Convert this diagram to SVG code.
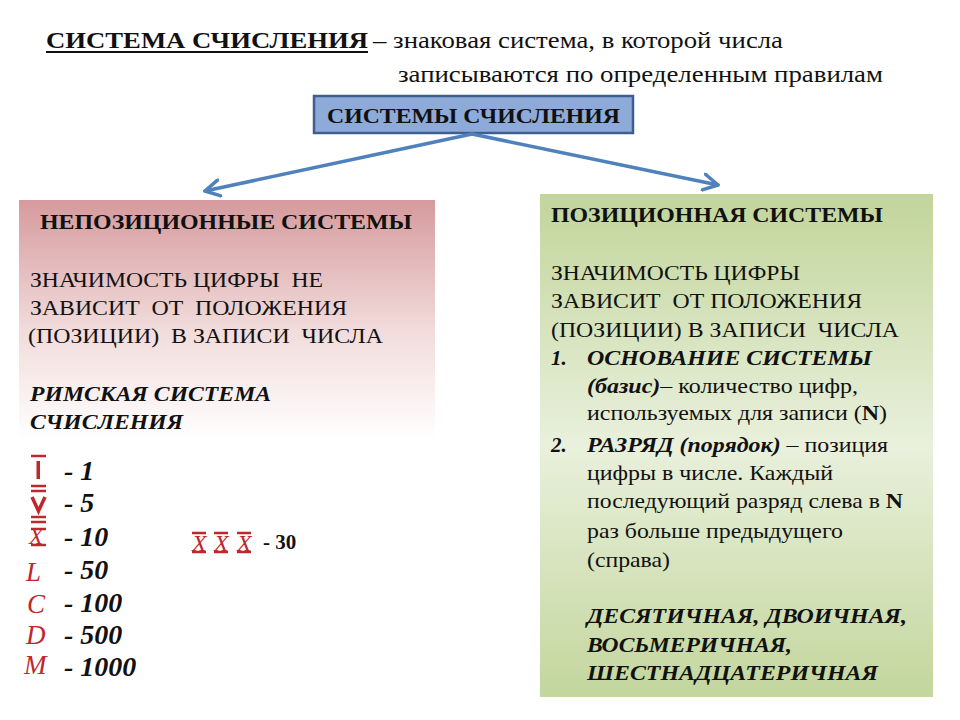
<svg xmlns="http://www.w3.org/2000/svg" width="960" height="720" viewBox="0 0 960 720">
<style>
text{fill:#111;white-space:pre}
.b{font-weight:bold}
.i{font-style:italic}
.t22{font-size:22px}
.t21{font-size:21px}
.red{fill:#c0272d}
.bar{stroke:#c0272d;stroke-width:2.5}
.dig{font-size:28px;font-weight:bold;font-style:italic}
.conn{stroke:#4f81bd;stroke-width:3.5;fill:none;stroke-linecap:round}
</style>
<defs>
<linearGradient id="gPink" x1="0" y1="0" x2="0" y2="1">
<stop offset="0" stop-color="#d69a9d"/>
<stop offset="0.55" stop-color="#f2dcdc"/>
<stop offset="1" stop-color="#ffffff"/>
</linearGradient>
<linearGradient id="gGreen" x1="0" y1="0" x2="0" y2="1">
<stop offset="0" stop-color="#c2d59b"/>
<stop offset="0.5" stop-color="#e9f0dc"/>
<stop offset="1" stop-color="#c3d69d"/>
</linearGradient>
<marker id="arr" viewBox="0 0 12 12" refX="10" refY="6" markerWidth="5.5" markerHeight="5.5" orient="auto" markerUnits="strokeWidth">
<path d="M1,1 L10,6 L1,11" fill="none" stroke="#4f81bd" stroke-width="2.2" stroke-linecap="round" stroke-linejoin="round"/>
</marker>
</defs>
<rect width="960" height="720" fill="#ffffff"/>
<g font-family="Liberation Serif, Times New Roman, serif">
<g id="title">
<text x="46" y="48" class="b" font-size="24" textLength="322" lengthAdjust="spacingAndGlyphs">СИСТЕМА СЧИСЛЕНИЯ</text>
<line x1="46" y1="52" x2="368" y2="52" stroke="#111" stroke-width="2.2"/>
<text x="373" y="48" font-size="23" textLength="410" lengthAdjust="spacingAndGlyphs">– знаковая система, в которой числа</text>
<text x="398" y="82" font-size="23" textLength="485" lengthAdjust="spacingAndGlyphs">записываются по определенным правилам</text>
</g>

<g id="root">
<rect x="314" y="96" width="319" height="37" fill="#8eaad8" stroke="#3d5f8f" stroke-width="2.5"/>
<text x="327" y="123" class="b t22" textLength="293" lengthAdjust="spacingAndGlyphs">СИСТЕМЫ СЧИСЛЕНИЯ</text>
</g>

<g id="connectors">
<path class="conn" d="M472,134 L205,191" marker-end="url(#arr)"/>
<path class="conn" d="M472,134 L718,185" marker-end="url(#arr)"/>
</g>

<g id="nonpositional">
<rect x="19" y="200" width="416" height="240" fill="url(#gPink)"/>
<text x="40" y="229" class="b t22" textLength="372" lengthAdjust="spacingAndGlyphs">НЕПОЗИЦИОННЫЕ СИСТЕМЫ</text>
<text x="30" y="287" class="t22" textLength="293" lengthAdjust="spacingAndGlyphs">ЗНАЧИМОСТЬ ЦИФРЫ  НЕ</text>
<text x="30" y="315" class="t22" textLength="317" lengthAdjust="spacingAndGlyphs">ЗАВИСИТ  ОТ  ПОЛОЖЕНИЯ</text>
<text x="28" y="343" class="t22" textLength="355" lengthAdjust="spacingAndGlyphs">(ПОЗИЦИИ)  В ЗАПИСИ  ЧИСЛА</text>
<text x="30" y="401" class="b i t22" textLength="241" lengthAdjust="spacingAndGlyphs">РИМСКАЯ СИСТЕМА</text>
<text x="30" y="429" class="b i t22" textLength="153" lengthAdjust="spacingAndGlyphs">СЧИСЛЕНИЯ</text>
</g>

<g id="roman">
<line class="bar" x1="31" y1="456" x2="46" y2="456"/>
<rect x="36.5" y="461" width="3.5" height="18" fill="#c0272d"/>
<line class="bar" x1="31" y1="486" x2="46" y2="486"/>
<line class="bar" x1="31" y1="491" x2="46" y2="491"/>
<path d="M32,497 L38.5,511 L45,497" fill="none" stroke="#c0272d" stroke-width="3.5"/>
<line class="bar" x1="31" y1="517" x2="46" y2="517"/>
<line class="bar" x1="31" y1="522" x2="46" y2="522"/>
<line class="bar" x1="31" y1="529" x2="46" y2="529"/>
<text x="29" y="544" class="red i" font-size="23">X</text>
<line class="bar" x1="31" y1="545" x2="46" y2="545"/>
<text x="26" y="581" class="red i" font-size="27">L</text>
<text x="27" y="613" class="red i" font-size="27">C</text>
<text x="26" y="644" class="red i" font-size="27">D</text>
<text x="24" y="674" class="red i" font-size="27">M</text>
<text x="64" y="480" class="dig">- 1</text>
<text x="64" y="512" class="dig">- 5</text>
<text x="64" y="546" class="dig">- 10</text>
<text x="64" y="579" class="dig">- 50</text>
<text x="64" y="612" class="dig">- 100</text>
<text x="64" y="644" class="dig">- 500</text>
<text x="64" y="676" class="dig">- 1000</text>
<line class="bar" x1="192" y1="533" x2="206" y2="533"/>
<line class="bar" x1="192" y1="552" x2="206" y2="552"/>
<text x="192" y="551" class="red i" font-size="24">X</text>
<line class="bar" x1="214" y1="533" x2="228" y2="533"/>
<line class="bar" x1="214" y1="552" x2="228" y2="552"/>
<text x="214" y="551" class="red i" font-size="24">X</text>
<line class="bar" x1="237" y1="533" x2="251" y2="533"/>
<line class="bar" x1="237" y1="552" x2="251" y2="552"/>
<text x="237" y="551" class="red i" font-size="24">X</text>
<text x="263" y="549" class="b" font-size="21">- 30</text>
</g>

<g id="positional">
<rect x="540" y="194" width="393" height="503" fill="url(#gGreen)"/>
<text x="551" y="222" class="b" font-size="20" textLength="332" lengthAdjust="spacingAndGlyphs">ПОЗИЦИОННАЯ СИСТЕМЫ</text>
<text x="551" y="280" class="t21" textLength="249" lengthAdjust="spacingAndGlyphs">ЗНАЧИМОСТЬ ЦИФРЫ</text>
<text x="551" y="308" class="t21" textLength="311" lengthAdjust="spacingAndGlyphs">ЗАВИСИТ  ОТ ПОЛОЖЕНИЯ</text>
<text x="551" y="337" class="t21" textLength="348" lengthAdjust="spacingAndGlyphs">(ПОЗИЦИИ) В ЗАПИСИ  ЧИСЛА</text>
<text x="551" y="365" class="b i t21">1.</text>
<text x="587" y="365" class="b i t21" textLength="285" lengthAdjust="spacingAndGlyphs">ОСНОВАНИЕ СИСТЕМЫ</text>
<text x="587" y="393" class="t21" textLength="271" lengthAdjust="spacingAndGlyphs"><tspan class="b i">(базис)</tspan>– количество цифр,</text>
<text x="587" y="420" class="t21" textLength="300" lengthAdjust="spacingAndGlyphs">используемых для записи (<tspan class="b">N</tspan>)</text>
<text x="551" y="452" class="b i t21">2.</text>
<text x="587" y="452" class="t21" textLength="301" lengthAdjust="spacingAndGlyphs"><tspan class="b i">РАЗРЯД (порядок)</tspan> – позиция</text>
<text x="587" y="480" class="t21" textLength="246" lengthAdjust="spacingAndGlyphs">цифры в числе. Каждый</text>
<text x="587" y="508" class="t21" textLength="316" lengthAdjust="spacingAndGlyphs">последующий разряд слева в <tspan class="b">N</tspan></text>
<text x="587" y="538" class="t21" textLength="256" lengthAdjust="spacingAndGlyphs">раз больше предыдущего</text>
<text x="587" y="567" class="t21" textLength="83" lengthAdjust="spacingAndGlyphs">(справа)</text>
<text x="587" y="623" class="b i t21" textLength="320" lengthAdjust="spacingAndGlyphs">ДЕСЯТИЧНАЯ, ДВОИЧНАЯ,</text>
<text x="587" y="652" class="b i t21" textLength="205" lengthAdjust="spacingAndGlyphs">ВОСЬМЕРИЧНАЯ,</text>
<text x="587" y="680" class="b i t21" textLength="291" lengthAdjust="spacingAndGlyphs">ШЕСТНАДЦАТЕРИЧНАЯ</text>
</g>
</g>
</svg>
